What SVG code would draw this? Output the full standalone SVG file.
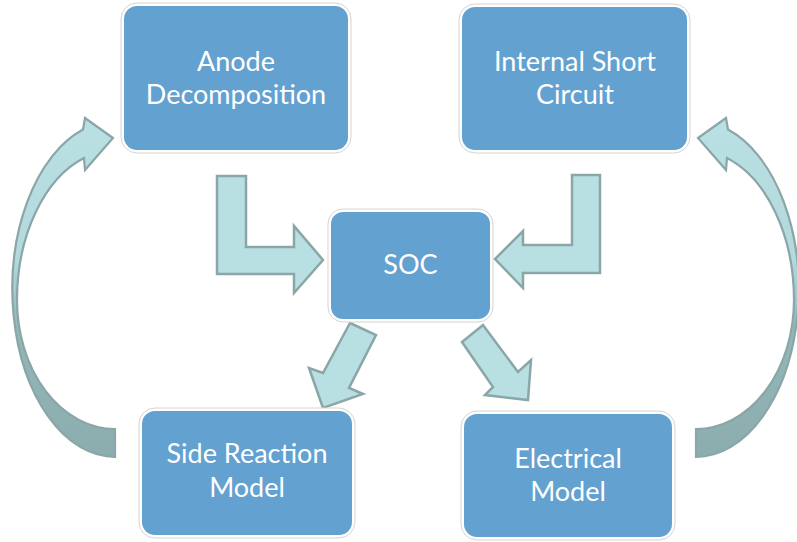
<svg xmlns="http://www.w3.org/2000/svg" width="797" height="542" viewBox="0 0 797 542">
<defs>
<linearGradient id="arcGrad" x1="0" y1="0" x2="0" y2="1">
<stop offset="0" stop-color="#b9e0e3"/>
<stop offset="0.42" stop-color="#b3d9dc"/>
<stop offset="0.62" stop-color="#94b7b8"/>
<stop offset="1" stop-color="#8cadaf"/>
</linearGradient>
<style>
.frame{fill:#ffffff;stroke:#d4d4d4;stroke-width:1}
.box{fill:#63a1d1}
.lbl{fill:#ffffff;font-family:Lato,"Open Sans","Liberation Sans",sans-serif;font-size:27px;text-anchor:middle}
.arr{fill:#b8dfe2;stroke:#8aa6a7;stroke-width:2.5;stroke-linejoin:miter}
.arc{fill:url(#arcGrad);stroke:#8aa6a7;stroke-width:2.2;stroke-linejoin:miter}
</style>
</defs>
<rect width="797" height="542" fill="#ffffff"/>
<g id="connectors">
<path class="arc" d="M115,457 A103,168 0 0 1 83,129.5 L85,118 L113,138 L85,170 L84,158 A98,150 0 0 0 17,300 A98,129 0 0 0 115,429 Z"/>
<path class="arc" transform="translate(811,0) scale(-1,1)" d="M115,457 A103,168 0 0 1 83,129.5 L85,118 L113,138 L85,170 L84,158 A98,150 0 0 0 17,300 A98,129 0 0 0 115,429 Z"/>
<path class="arr" d="M217,176 L246,176 L246,247 L294,247 L294,226 L323,260 L294,293 L294,274 L217,274 Z"/>
<path class="arr" d="M600,175 L572,175 L572,245 L523,245 L523,231 L495,259 L523,288 L523,273 L600,273 Z"/>
<path class="arr" d="M350,323 L323,373 L309,368 L323,408 L363,394 L349,388 L376,335 Z"/>
<path class="arr" d="M462,342 L493,387 L485,395 L528,400 L531,360 L518,372 L483,325 Z"/>
</g>
<g id="anode">
<rect class="frame" x="121" y="3" width="230" height="150" rx="16"/>
<rect class="box" x="124" y="6" width="224" height="144" rx="13"/>
<text class="lbl" x="236" y="71">Anode</text>
<text class="lbl" x="236" y="104">Decomposition</text>
</g>
<g id="short">
<rect class="frame" x="459" y="4" width="231" height="149" rx="16"/>
<rect class="box" x="462" y="7" width="225" height="143" rx="13"/>
<text class="lbl" x="575" y="71">Internal Short</text>
<text class="lbl" x="575" y="104">Circuit</text>
</g>
<g id="soc">
<rect class="frame" x="328" y="209" width="165" height="113" rx="15"/>
<rect class="box" x="331" y="212" width="159" height="107" rx="12"/>
<text class="lbl" x="410.5" y="274">SOC</text>
</g>
<g id="side">
<rect class="frame" x="139" y="408" width="216" height="130" rx="16"/>
<rect class="box" x="142" y="411" width="210" height="124" rx="13"/>
<text class="lbl" x="247" y="463">Side Reaction</text>
<text class="lbl" x="247" y="497">Model</text>
</g>
<g id="electrical">
<rect class="frame" x="461" y="411" width="214" height="129" rx="16"/>
<rect class="box" x="464" y="414" width="208" height="123" rx="13"/>
<text class="lbl" x="568" y="468">Electrical</text>
<text class="lbl" x="568" y="501">Model</text>
</g>
</svg>
